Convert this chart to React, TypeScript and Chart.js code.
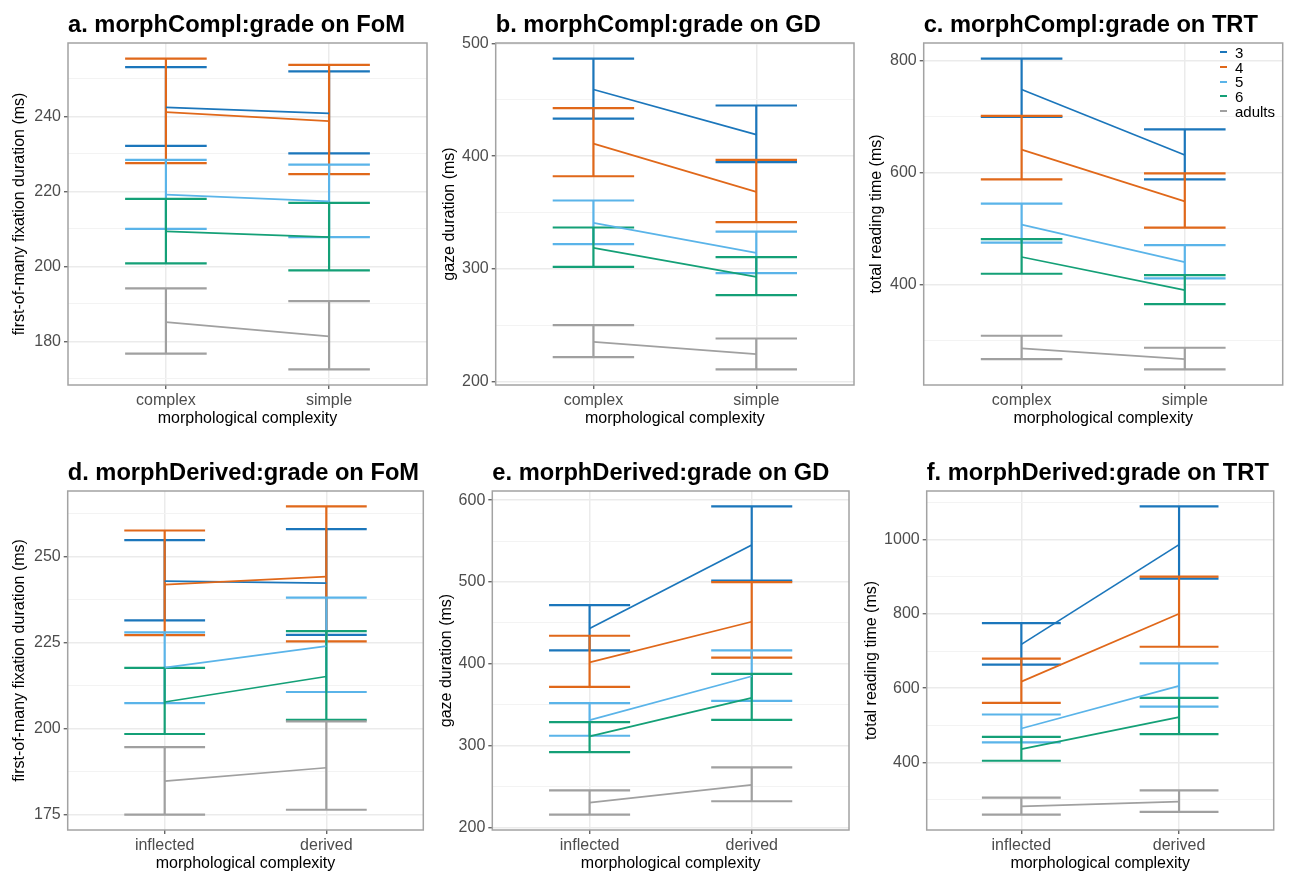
import React, { useEffect, useRef } from 'react';
import { Chart, registerables } from 'chart.js';

Chart.register(...registerables);

const FONT_FAMILY = '"Liberation Sans", Arial, Helvetica, sans-serif';

// Reader groups and their colours
const GROUPS = ['3', '4', '5', '6', 'adults'];
const GROUP_COLORS = ['#1B76BB', '#E0681A', '#5AB4E9', '#14A077', '#A0A0A0'];

// Levels of morphological complexity on the x axis
const COMPL_LEVELS = ['complex', 'simple'];
const DERIV_LEVELS = ['inflected', 'derived'];

// a. morphCompl:grade on FoM (ms), rows = grades 3, 4, 5, 6, adults
const fomComplMean = [[242.4, 240.8], [241.1, 238.7], [219.1, 217.3], [209.3, 207.8], [185.1, 181.3]];
const fomComplLow = [[232.1, 230.1], [227.5, 224.6], [210.0, 207.8], [200.8, 198.9], [176.7, 172.5]];
const fomComplHigh = [[253.1, 252.0], [255.4, 253.7], [228.4, 227.1], [218.0, 216.9], [194.1, 190.7]];

// b. morphCompl:grade on GD (ms)
const gdComplMean = [[459.2, 419.2], [411.2, 368.3], [340.8, 314.2], [318.6, 292.9], [235.2, 224.3]];
const gdComplLow = [[433.4, 394.7], [382.2, 341.4], [321.9, 296.2], [301.8, 276.6], [221.6, 210.7]];
const gdComplHigh = [[486.7, 445.0], [442.6, 396.7], [360.7, 333.1], [336.7, 310.4], [250.0, 238.2]];

// c. morphCompl:grade on TRT (ms)
const trtComplMean = [[748.7, 631.6], [641.2, 548.7], [506.9, 440.0], [449.0, 389.9], [285.4, 266.3]];
const trtComplLow = [[699.7, 588.1], [588.1, 501.5], [474.6, 410.7], [419.1, 364.8], [266.3, 247.8]];
const trtComplHigh = [[804.2, 677.6], [701.5, 598.8], [544.5, 470.4], [481.2, 416.7], [308.1, 286.6]];

// d. morphDerived:grade on FoM (ms)
const fomDerivMean = [[242.8, 242.2], [241.8, 244.1], [217.7, 223.9], [207.7, 215.1], [184.7, 188.6]];
const fomDerivLow = [[231.4, 227.2], [227.1, 225.3], [207.4, 210.6], [198.4, 202.5], [175.0, 176.4]];
const fomDerivHigh = [[254.7, 257.9], [257.5, 264.5], [227.9, 238.0], [217.6, 228.3], [194.6, 202.1]];

// e. morphDerived:grade on GD (ms)
const gdDerivMean = [[443.2, 545.2], [401.8, 451.4], [331.2, 384.8], [311.3, 358.4], [230.4, 252.0]];
const gdDerivLow = [[416.4, 501.7], [371.8, 407.5], [312.1, 354.7], [292.2, 331.6], [215.8, 232.1]];
const gdDerivHigh = [[471.7, 592.3], [434.3, 499.7], [351.9, 416.4], [328.8, 387.6], [245.5, 273.5]];

// f. morphDerived:grade on TRT (ms)
const trtDerivMean = [[717.9, 986.6], [617.6, 800.3], [491.4, 606.0], [435.8, 521.8], [281.8, 294.3]];
const trtDerivLow = [[663.3, 895.2], [560.3, 711.6], [453.7, 550.5], [404.5, 476.1], [259.4, 266.6]];
const trtDerivHigh = [[775.2, 1089.6], [679.4, 900.6], [529.0, 666.9], [469.0, 573.7], [305.1, 324.8]];

// Major y-tick steps per panel
const Y_STEPS = [20, 100, 200, 25, 100, 200];

const X_TITLE = 'morphological complexity';

type PanelSpec = {
  title: string;
  yTitle: string;
  levels: string[];
  mean: number[][];
  low: number[][];
  high: number[][];
  step: number;
  frame: { left: number; top: number; width: number; height: number; plot: number[]; yTitleX: number; titleY: number };
};

const PANELS: PanelSpec[] = [
  {
    title: 'a. morphCompl:grade on FoM', yTitle: 'first-of-many fixation duration (ms)', levels: COMPL_LEVELS,
    mean: fomComplMean, low: fomComplLow, high: fomComplHigh, step: Y_STEPS[0],
    frame: { left: 0, top: 0, width: 431, height: 430, plot: [68, 43, 427, 385], yTitleX: 20, titleY: 25.5 },
  },
  {
    title: 'b. morphCompl:grade on GD', yTitle: 'gaze duration (ms)', levels: COMPL_LEVELS,
    mean: gdComplMean, low: gdComplLow, high: gdComplHigh, step: Y_STEPS[1],
    frame: { left: 431, top: 0, width: 431, height: 430, plot: [495.7, 43, 854, 385], yTitleX: 450, titleY: 25.5 },
  },
  {
    title: 'c. morphCompl:grade on TRT', yTitle: 'total reading time (ms)', levels: COMPL_LEVELS,
    mean: trtComplMean, low: trtComplLow, high: trtComplHigh, step: Y_STEPS[2],
    frame: { left: 852, top: 0, width: 441, height: 430, plot: [923.7, 43, 1282.7, 385], yTitleX: 876.7, titleY: 25.5 },
  },
  {
    title: 'd. morphDerived:grade on FoM', yTitle: 'first-of-many fixation duration (ms)', levels: DERIV_LEVELS,
    mean: fomDerivMean, low: fomDerivLow, high: fomDerivHigh, step: Y_STEPS[3],
    frame: { left: 0, top: 430, width: 431, height: 443, plot: [67.7, 491, 423.3, 830], yTitleX: 20, titleY: 473.5 },
  },
  {
    title: 'e. morphDerived:grade on GD', yTitle: 'gaze duration (ms)', levels: DERIV_LEVELS,
    mean: gdDerivMean, low: gdDerivLow, high: gdDerivHigh, step: Y_STEPS[4],
    frame: { left: 431, top: 430, width: 431, height: 443, plot: [492.3, 491, 849, 830], yTitleX: 446.7, titleY: 473.5 },
  },
  {
    title: 'f. morphDerived:grade on TRT', yTitle: 'total reading time (ms)', levels: DERIV_LEVELS,
    mean: trtDerivMean, low: trtDerivLow, high: trtDerivHigh, step: Y_STEPS[5],
    frame: { left: 852, top: 430, width: 441, height: 443, plot: [926.7, 491, 1273.7, 830], yTitleX: 871.7, titleY: 473.5 },
  },
];

const TITLE_SIZE = 23.7;
const AXIS_SIZE = 16;
const TITLE_LH = TITLE_SIZE * 1.2;
const AXIS_LH = AXIS_SIZE * 1.2;
const Y_TITLE_PAD = 4;
const CAP_HALF = 0.25;
const MAJOR_GRID = '#EBEBEB';
const MINOR_GRID = '#F3F3F3';
const TICK_MARK = '#4D4D4D';
const TICK_TEXT = '#4D4D4D';
const FRAME_COLOR = '#A3A3A3';

// Panel border drawn around the plotting area
const framePlugin = {
  id: 'panelFrame',
  afterDraw(chart: any) {
    const { ctx, chartArea } = chart;
    ctx.save();
    ctx.strokeStyle = FRAME_COLOR;
    ctx.lineWidth = 1.5;
    ctx.strokeRect(chartArea.left, chartArea.top, chartArea.right - chartArea.left, chartArea.bottom - chartArea.top);
    ctx.restore();
  },
};

function buildConfig(spec: PanelSpec): any {
  const f = spec.frame;
  const padLeft = f.yTitleX - f.left - (Y_TITLE_PAD + AXIS_LH / 2);
  const yWidth = f.plot[0] - f.left - padLeft;
  const padRight = f.left + f.width - f.plot[2];
  const titlePadTop = f.titleY - f.top - TITLE_LH / 2;
  const titlePadBottom = f.plot[1] - f.titleY - TITLE_LH / 2;
  const xHeight = f.top + f.height - f.plot[3];
  const xTitlePadBottom = f.top + f.height - (f.plot[3] + 33.3) - AXIS_LH / 2;

  // y range: data extent with 5% expansion on both sides
  const all = [...spec.low.flat(), ...spec.high.flat(), ...spec.mean.flat()];
  const dMin = Math.min(...all);
  const dMax = Math.max(...all);
  const span = dMax - dMin;
  const yMin = dMin - span * 0.05;
  const yMax = dMax + span * 0.05;

  const isMajor = (v: number) => Math.abs(v / spec.step - Math.round(v / spec.step)) < 1e-6;

  const datasets: any[] = [];
  GROUPS.forEach((g, gi) => {
    const bars: any[] = [];
    spec.levels.forEach((_, ci) => {
      const hi = spec.high[gi][ci];
      const lo = spec.low[gi][ci];
      bars.push(
        { x: ci - CAP_HALF, y: hi }, { x: ci + CAP_HALF, y: hi }, { x: ci, y: null },
        { x: ci, y: hi }, { x: ci, y: lo }, { x: ci, y: null },
        { x: ci - CAP_HALF, y: lo }, { x: ci + CAP_HALF, y: lo }, { x: ci, y: null },
      );
    });
    datasets.push({
      label: `${g} CI`,
      data: bars,
      borderColor: GROUP_COLORS[gi],
      borderWidth: 2.2,
      pointRadius: 0,
      spanGaps: false,
      tension: 0,
      order: 100 - gi,
    });
  });
  GROUPS.forEach((g, gi) => {
    datasets.push({
      label: g,
      data: spec.levels.map((_, ci) => ({ x: ci, y: spec.mean[gi][ci] })),
      borderColor: GROUP_COLORS[gi],
      borderWidth: 1.7,
      pointRadius: 0,
      tension: 0,
      order: 50 - gi,
    });
  });

  const tickFont = { family: FONT_FAMILY, size: AXIS_SIZE };

  return {
    type: 'line',
    data: { datasets },
    plugins: [framePlugin],
    options: {
      animation: false,
      responsive: false,
      devicePixelRatio: 1,
      layout: { padding: { left: padLeft, right: padRight, top: 0, bottom: 0 } },
      plugins: {
        legend: { display: false },
        tooltip: { enabled: false },
        title: {
          display: true,
          text: spec.title,
          align: 'start',
          fullSize: false,
          color: '#000',
          font: { family: FONT_FAMILY, size: TITLE_SIZE, weight: 'bold', lineHeight: 1.2 },
          padding: { top: titlePadTop, bottom: titlePadBottom },
        },
      },
      scales: {
        x: {
          type: 'linear',
          min: -0.6,
          max: 1.6,
          afterFit: (s: any) => { s.height = xHeight; },
          ticks: {
            stepSize: 1,
            includeBounds: false,
            autoSkip: false,
            maxRotation: 0,
            minRotation: 0,
            padding: 2,
            color: TICK_TEXT,
            font: tickFont,
            callback: (v: number) => spec.levels[v] ?? '',
          },
          grid: { color: MAJOR_GRID, lineWidth: 1.5, tickLength: 4, tickColor: TICK_MARK, tickWidth: 1.2 },
          border: { display: false },
          title: {
            display: true,
            text: X_TITLE,
            color: '#000',
            font: { family: FONT_FAMILY, size: AXIS_SIZE, lineHeight: 1.2 },
            padding: { top: 0, bottom: xTitlePadBottom },
          },
        },
        y: {
          type: 'linear',
          min: yMin,
          max: yMax,
          afterFit: (s: any) => { s.width = yWidth; },
          ticks: {
            stepSize: spec.step / 2,
            includeBounds: false,
            maxTicksLimit: 100,
            padding: 3,
            color: TICK_TEXT,
            font: tickFont,
            callback: (v: number) => (isMajor(v) ? String(Math.round(v)) : ''),
          },
          grid: {
            color: (ctx: any) => (ctx.tick && isMajor(ctx.tick.value) ? MAJOR_GRID : MINOR_GRID),
            lineWidth: (ctx: any) => (ctx.tick && isMajor(ctx.tick.value) ? 1.5 : 1),
            tickLength: 4,
            tickColor: (ctx: any) => (ctx.tick && isMajor(ctx.tick.value) ? TICK_MARK : 'rgba(0,0,0,0)'),
            tickWidth: 1.2,
          },
          border: { display: false },
          title: {
            display: true,
            text: spec.yTitle,
            color: '#000',
            font: { family: FONT_FAMILY, size: AXIS_SIZE, lineHeight: 1.2 },
            padding: { top: Y_TITLE_PAD, bottom: 0 },
          },
        },
      },
    },
  };
}

function Panel({ spec }: { spec: PanelSpec }) {
  const ref = useRef<HTMLCanvasElement | null>(null);
  useEffect(() => {
    if (!ref.current) return;
    const chart = new Chart(ref.current, buildConfig(spec));
    return () => chart.destroy();
  }, [spec]);
  const f = spec.frame;
  return (
    <canvas
      ref={ref}
      width={f.width}
      height={f.height}
      style={{ position: 'absolute', left: f.left, top: f.top, width: f.width, height: f.height }}
    />
  );
}

// Group legend inside panel c
const LEGEND_ROWS_Y = [52.3, 67, 81.7, 96.3, 111];

function GroupLegend() {
  return (
    <div style={{ position: 'absolute', left: 0, top: 0 }}>
      {GROUPS.map((g, i) => (
        <div key={g}>
          <div
            style={{
              position: 'absolute', left: 1220, top: LEGEND_ROWS_Y[i] - 1.2, width: 7, height: 2.4,
              background: GROUP_COLORS[i],
            }}
          />
          <div
            style={{
              position: 'absolute', left: 1235, top: LEGEND_ROWS_Y[i] - 8.5, height: 17, lineHeight: '17px',
              fontFamily: FONT_FAMILY, fontSize: 15, color: '#000', whiteSpace: 'nowrap',
            }}
          >
            {g}
          </div>
        </div>
      ))}
    </div>
  );
}

export default function App() {
  return (
    <div
      style={{
        position: 'fixed', left: 0, top: 0, width: 1293, height: 873, overflow: 'hidden', background: '#fff',
      }}
    >
      {PANELS.map((p) => (
        <Panel key={p.title} spec={p} />
      ))}
      <GroupLegend />
    </div>
  );
}
